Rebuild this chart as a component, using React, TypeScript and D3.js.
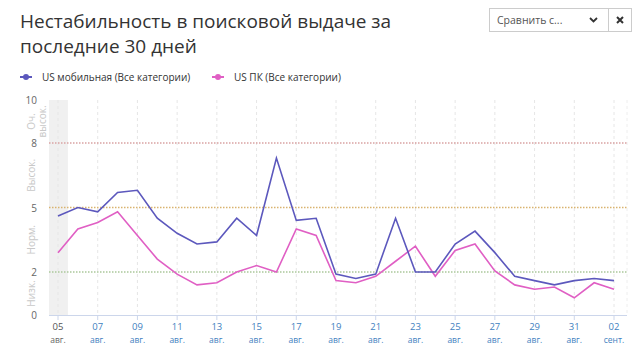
import React from "react";
import * as d3 from "d3";

const startDate = new Date(2020, 7, 5);
const mobileValues = [4.6, 5.0, 4.8, 5.7, 5.8, 4.5, 3.8, 3.3, 3.4, 4.5, 3.7, 7.3, 4.4, 4.5, 1.9, 1.7, 1.9, 4.5, 2.0, 2.0, 3.3, 3.9, 2.9, 1.8, 1.6, 1.4, 1.6, 1.7, 1.6];
const pcValues = [2.9, 4.0, 4.3, 4.8, 3.7, 2.6, 1.9, 1.4, 1.5, 2.0, 2.3, 2.0, 4.0, 3.7, 1.6, 1.5, 1.8, 2.5, 3.2, 1.8, 3.0, 3.3, 2.05, 1.4, 1.2, 1.3, 0.8, 1.5, 1.2];
const yTicks = [0, 2, 5, 8, 10];
const thresholds = [
  { v: 8, color: "#d9a3a3" },
  { v: 5, color: "#d9b36f" },
  { v: 2, color: "#aac79a" },
];
const zones = [
  { mid: 9, lines: ["Оч.", "высок."] },
  { mid: 6.5, lines: ["Высок."] },
  { mid: 3.5, lines: ["Норм."] },
  { mid: 1, lines: ["Низк."] },
];
const monthNames = ["янв.", "февр.", "мар.", "апр.", "мая", "июн.", "июл.", "авг.", "сент.", "окт.", "нояб.", "дек."];
const seriesNames = ["US мобильная (Все категории)", "US ПК (Все категории)"];
const seriesColors = ["#5c58bd", "#e05fc4"];

export default function App() {
  const W = 640, H = 358;
  const dates = mobileValues.map((_, i) => d3.timeDay.offset(startDate, i));
  const x = d3.scaleTime().domain([dates[0], dates[dates.length - 1]]).range([58, 614]);
  const y = d3.scaleLinear().domain([0, 10]).range([315, 100]);
  const left = 49, right = 627;
  const tickDates = dates.filter((_, i) => i % 2 === 0);
  const line = d3.line<number>().x((_, i) => x(dates[i])).y((v) => y(v));
  const font = "'Open Sans', 'Noto Sans', sans-serif";
  const dayW = x(dates[1]) - x(dates[0]);

  return (
    <svg width={W} height={H} style={{ position: "absolute", left: 0, top: 0, fontFamily: font }}>
      <rect width={W} height={H} fill="#fff" />
      <text x={20} y={28} fontSize={19} fill="#333">Нестабильность в поисковой выдаче за</text>
      <text x={20} y={53} fontSize={19} fill="#333">последние 30 дней</text>

      {/* dropdown */}
      <rect x={489.5} y={8.5} width={119} height={23} fill="#fff" stroke="#ccc" />
      <text x={497} y={24} fontSize={10.5} fill="#555">Сравнить с...</text>
      <path d="M590 18 l3.5 3.5 l3.5 -3.5" fill="none" stroke="#333" strokeWidth={1.8} />
      <rect x={608.5} y={8.5} width={23} height={23} fill="#fff" stroke="#ccc" />
      <path d="M617 17 l6 6 M623 17 l-6 6" stroke="#333" strokeWidth={2} />

      {/* legend */}
      {seriesNames.map((n, i) => {
        const lx = i === 0 ? 20 : 212;
        return (
          <g key={n}>
            <line x1={lx} x2={lx + 12} y1={77} y2={77} stroke={seriesColors[i]} strokeWidth={2} />
            <circle cx={lx + 6} cy={77} r={3} fill={seriesColors[i]} />
            <text x={lx + 22} y={80.5} fontSize={10} fill="#333">{n}</text>
          </g>
        );
      })}

      {/* highlight band */}
      <rect x={left} y={100} width={x(dates[0]) + dayW / 2 - left} height={215} fill="#f0f0f0" />

      {/* vertical grid */}
      {tickDates.map((d, i) => (
        <line key={i} x1={x(d)} x2={x(d)} y1={100} y2={315} stroke="#e6e6e6" strokeDasharray="3,3" />
      ))}
      <line x1={right} x2={right} y1={100} y2={315} stroke="#eee" strokeDasharray="3,3" />

      {/* thresholds */}
      {thresholds.map((t) => (
        <line key={t.v} x1={left} x2={right} y1={y(t.v)} y2={y(t.v)} stroke={t.color} strokeWidth={1.5} strokeDasharray="1.5,1.5" />
      ))}

      {/* y ticks */}
      {yTicks.map((t) => (
        <text key={t} x={37} y={y(t) + 4} fontSize={10} fill="#666" textAnchor="end">{t}</text>
      ))}
      {zones.map((z) => (
        <g key={z.mid} transform={`translate(${z.lines.length > 1 ? 35 : 35},${y(z.mid)}) rotate(-90)`}>
          {z.lines.map((l, j) => (
            <text key={j} x={0} y={j * 11} fontSize={10} fill="#c8c8c8" textAnchor="middle">{l}</text>
          ))}
        </g>
      ))}

      {/* x axis */}
      <line x1={left} x2={right} y1={315.5} y2={315.5} stroke="#ccd6eb" />
      {tickDates.map((d, i) => (
        <g key={i}>
          <line x1={x(d)} x2={x(d)} y1={315} y2={320} stroke="#ccd6eb" />
          <text x={x(d)} y={330} fontSize={9.5} fill={i === 0 ? "#555" : "#3f7fc0"} textAnchor="middle">{d3.timeFormat("%d")(d)}</text>
          <text x={x(d)} y={343} fontSize={8.5} fill={i === 0 ? "#666" : "#3f7fc0"} textAnchor="middle">{monthNames[d.getMonth()]}</text>
        </g>
      ))}

      {/* series */}
      <path d={line(pcValues) || ""} fill="none" stroke={seriesColors[1]} strokeWidth={1.6} />
      <path d={line(mobileValues) || ""} fill="none" stroke={seriesColors[0]} strokeWidth={1.6} />
    </svg>
  );
}
